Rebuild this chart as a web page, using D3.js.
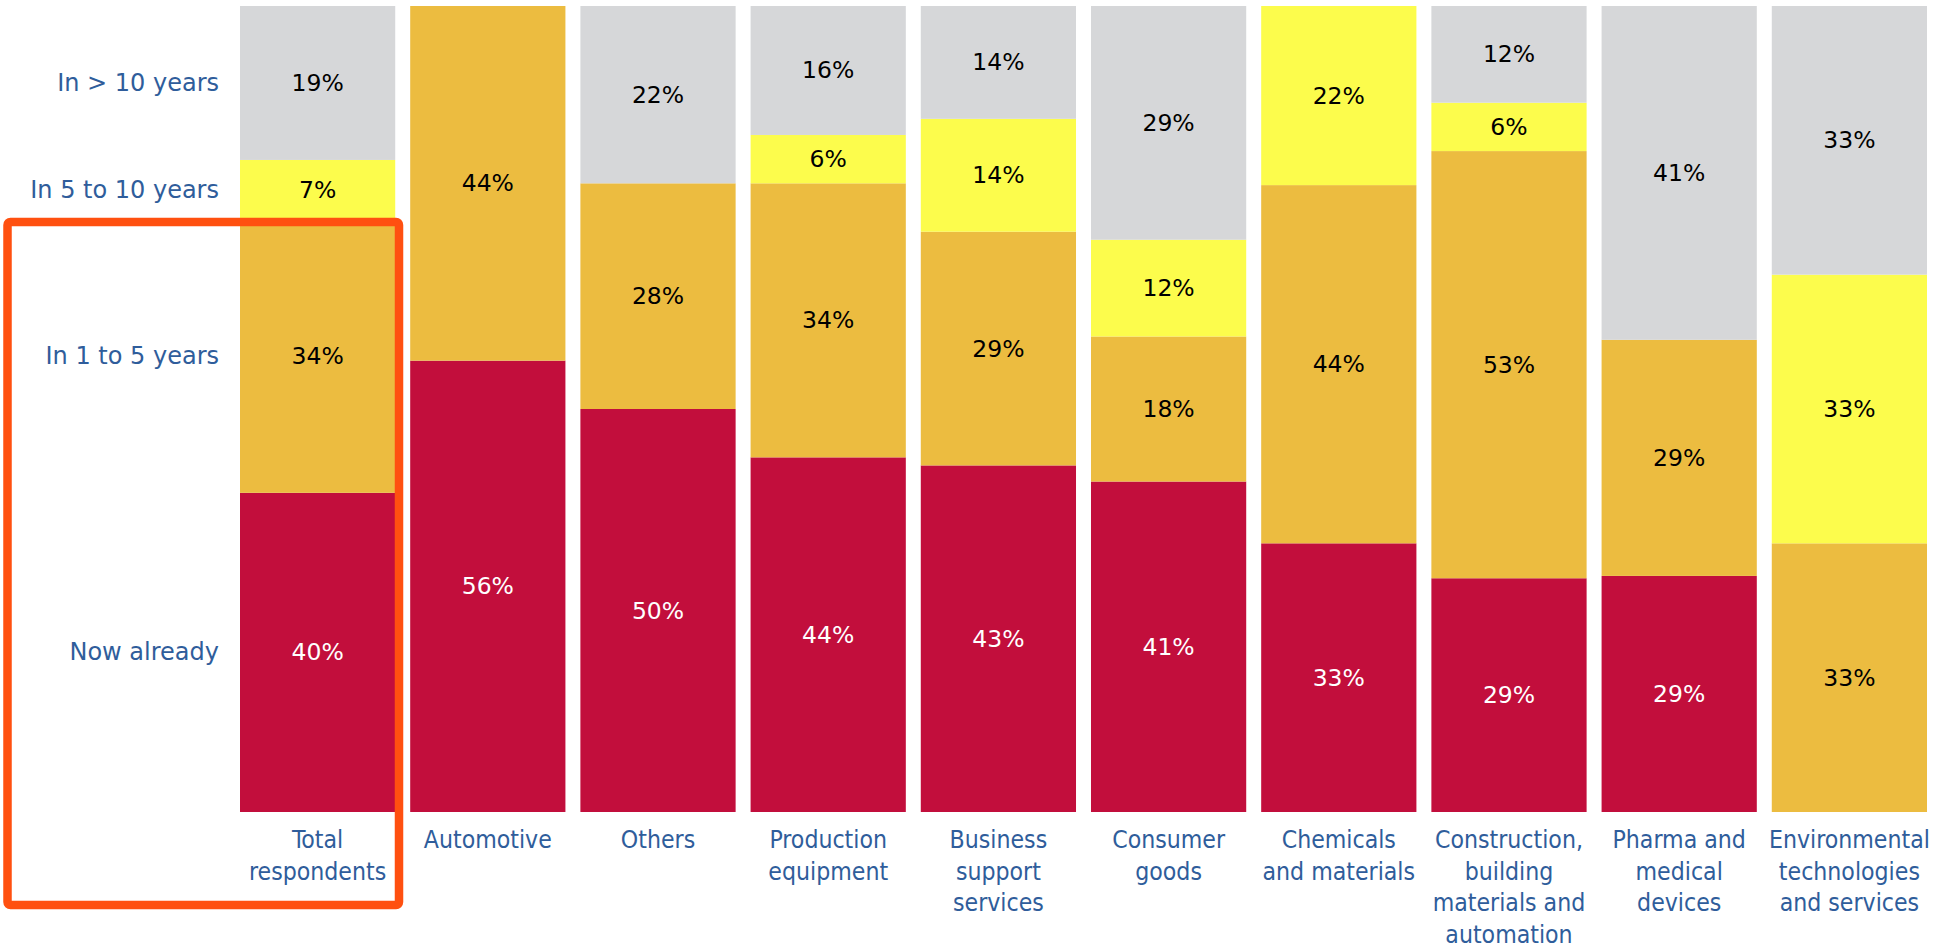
<!DOCTYPE html>
<html>
<head>
<meta charset="utf-8">
<script src="https://cdnjs.cloudflare.com/ajax/libs/d3/7.8.5/d3.min.js"></script>
<style>
  body { margin: 0; background: #fff; }
</style>
</head>
<body>
<div id="chart"></div>
<script>

// categories, each as the lines it is printed on
var categories = [
  "Total respondents", "Automotive", "Others", "Production equipment",
  "Business support services", "Consumer goods", "Chemicals and materials",
  "Construction, building materials and automation",
  "Pharma and medical devices", "Environmental technologies and services"
];
var categoryLines = [
  ["Total", "respondents"], ["Automotive"], ["Others"], ["Production", "equipment"],
  ["Business", "support", "services"], ["Consumer", "goods"], ["Chemicals", "and materials"],
  ["Construction,", "building", "materials and", "automation"],
  ["Pharma and", "medical", "devices"], ["Environmental", "technologies", "and services"]
];

// series, bottom to top (shares in %, labels are rounded)
var seriesNames = ["Now already", "In 1 to 5 years", "In 5 to 10 years", "In > 10 years"];
var nowAlready   = [39.6, 56, 50, 44, 43, 41, 33, 29, 29, 0];
var in1to5       = [33.9, 44, 28, 34, 29, 18, 44, 53, 29, 33];
var in5to10      = [7.4, 0, 0, 6, 14, 12, 22, 6, 0, 33];
var over10       = [19.1, 0, 22, 16, 14, 29, 0, 12, 41, 33];

var colors = ["#c20e3c", "#ecbc40", "#fcfc4c", "#d6d7d9"];
var labelColors = ["#ffffff", "#000000", "#000000", "#000000"];

var width = 1950, height = 946;
var margin = {top: 6, left: 240, right: 23, bottom: 134};

var svg = d3.select("#chart").append("svg")
    .attr("width", width)
    .attr("height", height);

// build rows for the stack
var rows = categories.map(function(c, i) {
  return {
    key: c, idx: i,
    "Now already": nowAlready[i],
    "In 1 to 5 years": in1to5[i],
    "In 5 to 10 years": in5to10[i],
    "In > 10 years": over10[i]
  };
});

var stacked = d3.stack()
    .keys(seriesNames)
    .offset(d3.stackOffsetExpand)(rows);

var x = d3.scaleBand()
    .domain(categories)
    .range([margin.left, width - margin.right])
    .paddingInner(0.088)
    .paddingOuter(0);

var y = d3.scaleLinear()
    .domain([0, 1])
    .range([height - margin.bottom, margin.top]);

// bars
var layer = svg.selectAll(".layer")
    .data(stacked)
  .enter().append("g")
    .attr("class", "layer")
    .attr("fill", function(d, i) { return colors[i]; });

layer.selectAll("rect")
    .data(function(d) { return d; })
  .enter().append("rect")
    .attr("x", function(d) { return x(d.data.key); })
    .attr("width", x.bandwidth())
    .attr("y", function(d) { return y(d[1]); })
    .attr("height", function(d) { return y(d[0]) - y(d[1]); });

// value labels
stacked.forEach(function(s, si) {
  svg.append("g").selectAll("text")
      .data(s.filter(function(d) { return d.data[s.key] > 0; }))
    .enter().append("text")
      .attr("x", function(d) { return x(d.data.key) + x.bandwidth() / 2; })
      .attr("y", function(d) { return (y(d[0]) + y(d[1])) / 2; })
      .attr("text-anchor", "middle")
      .attr("dominant-baseline", "central")
      .attr("font-family", "DejaVu Sans, Verdana, sans-serif")
      .attr("font-size", 23.5)
      .attr("fill", labelColors[si])
      .text(function(d) { return Math.round(d.data[s.key]) + "%"; });
});

// series labels on the left, level with the first bar's segments
svg.append("g").selectAll("text")
    .data(stacked)
  .enter().append("text")
    .attr("x", 219)
    .attr("y", function(s) { return (y(s[0][0]) + y(s[0][1])) / 2; })
    .attr("text-anchor", "end")
    .attr("dominant-baseline", "central")
    .attr("font-family", "DejaVu Sans, Verdana, sans-serif")
    .attr("font-size", 24)
    .attr("fill", "#2f5d9b")
    .text(function(s) { return s.key; });

// category labels
var cat = svg.append("g").selectAll("text")
    .data(categories)
  .enter().append("text")
    .attr("x", function(d) { return x(d) + x.bandwidth() / 2; })
    .attr("y", 848)
    .attr("text-anchor", "middle")
    .attr("font-family", "DejaVu Sans Condensed, DejaVu Sans, sans-serif")
    .attr("font-stretch", "condensed")
    .attr("font-size", 24.6)
    .attr("fill", "#2f5d9b");

cat.selectAll("tspan")
    .data(function(d, i) { return categoryLines[i]; })
  .enter().append("tspan")
    .attr("x", function() { return +d3.select(this.parentNode).attr("x"); })
    .attr("dy", function(d, i) { return i === 0 ? 0 : 31.6; })
    .text(function(d) { return d; });

// highlight box round the total column
svg.append("rect")
    .attr("x", 7.5)
    .attr("y", 222)
    .attr("width", 391.5)
    .attr("height", 683)
    .attr("rx", 3)
    .attr("fill", "none")
    .attr("stroke", "#ff5010")
    .attr("stroke-width", 8.5);

</script>
</body>
</html>
